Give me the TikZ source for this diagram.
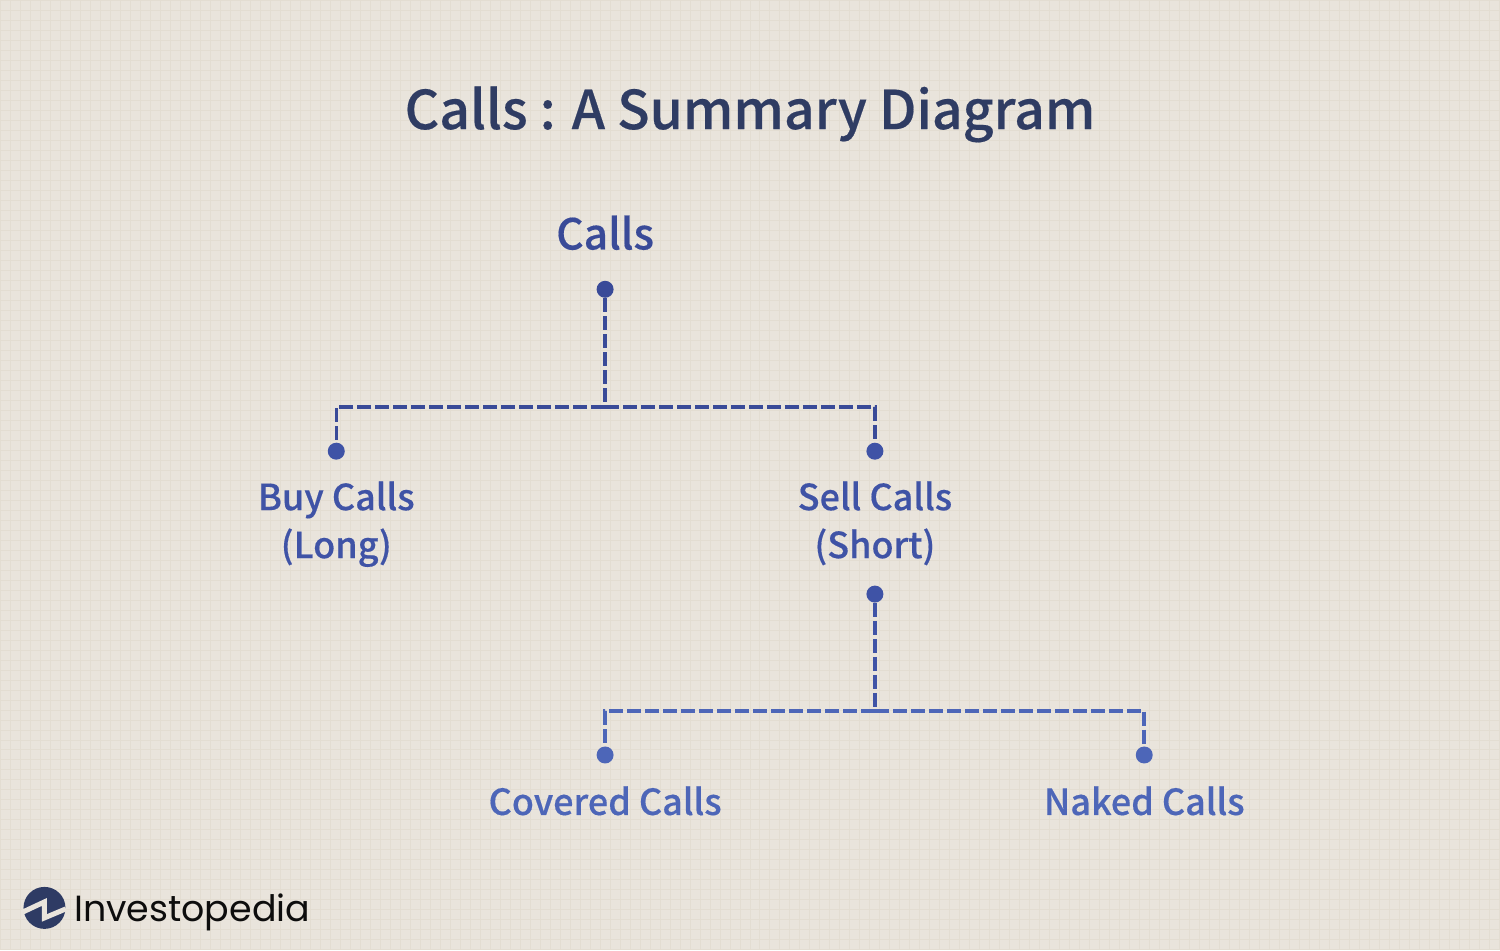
\documentclass[tikz,border=0pt]{standalone}
\usepackage{fontspec}
\setmainfont{Noto Sans CJK SC Medium}[FakeBold=0.35]
\newfontfamily\logofont{Poppins}
\definecolor{paper}{HTML}{E9E4DC}
\definecolor{paperline}{HTML}{E3DDD2}
\definecolor{titleink}{HTML}{2F3C63}
\definecolor{inkone}{HTML}{394A98}
\definecolor{inktwo}{HTML}{3F53A6}
\definecolor{inkthree}{HTML}{4D66B8}
\definecolor{logoink}{HTML}{2E3B64}
\usetikzlibrary{positioning}
\tikzset{
  every picture/.style={x=0.5pt,y=-0.5pt},
  dot/.style={circle,fill=#1,inner sep=0pt,minimum size=8.5pt},
  label/.style={text=#1,font=\fontsize{18}{24}\selectfont,align=center,inner sep=0pt},
  link/.style={draw=#1,line width=1.75pt,dash pattern=on 7pt off 2pt},
  bggrid/.style={draw=paperline,line width=0.5pt,step=5pt}
}

\begin{document}
\begin{tikzpicture}
  \fill [paper] (0,0) rectangle (1500,950);
  \draw [bggrid] (0,0) grid (1500,950);
  \useasboundingbox (0,0) rectangle (1500,950);

  \node [text=titleink,font=\fontsize{26.8}{32}\selectfont,inner sep=0pt] (title) at (750,114) {Calls : A Summary Diagram};

  \node [dot=inkone] (callsdot) at (605,289) {};
  \node [label=inkone,font=\fontsize{21.3}{26}\selectfont,above=15pt of callsdot] (calls) {Calls};
  \coordinate (topfork) at (605,407);

  \node [dot=inktwo] (buydot) at (336,451) {};
  \node [dot=inktwo] (selldot) at (875,451) {};
  \node [label=inktwo,below=10.5pt of buydot] (buy) {Buy Calls\\(Long)};
  \node [label=inktwo,below=10.5pt of selldot] (sell) {Sell Calls\\(Short)};

  \node [dot=inktwo] (shortdot) at (875,594) {};
  \coordinate (lowfork) at (875,711);

  \node [dot=inkthree] (covereddot) at (605,755) {};
  \node [dot=inkthree] (nakeddot) at (1144.5,755) {};
  \node [label=inkthree,below=11pt of covereddot] (covered) {Covered Calls};
  \node [label=inkthree,below=11pt of nakeddot] (naked) {Naked Calls};

  \draw [link=inkone] (callsdot) -- (topfork);
  \draw [link=inkone] (topfork) -| (buydot);
  \draw [link=inkone] (topfork) -| (selldot);
  \draw [link=inktwo] (shortdot) -- (lowfork);
  \draw [link=inkthree] (lowfork) -| (covereddot);
  \draw [link=inkthree] (lowfork) -| (nakeddot);

  % logo
  \node [circle,fill=logoink,inner sep=0pt,minimum size=21pt] (logomark) at (44,908) {};
  \draw [paper,line width=2.5pt,miter limit=10] (logomark.west) ++(0,4) -- (44,902) -- (44,918) -- ([yshift=-0.5pt]logomark.east);
  \node [text=black!95,font=\logofont\fontsize{18.2}{24}\selectfont,right=4pt of logomark,inner sep=0pt,yshift=-2pt] (logotext) {Investopedia};
\end{tikzpicture}
\end{document}
